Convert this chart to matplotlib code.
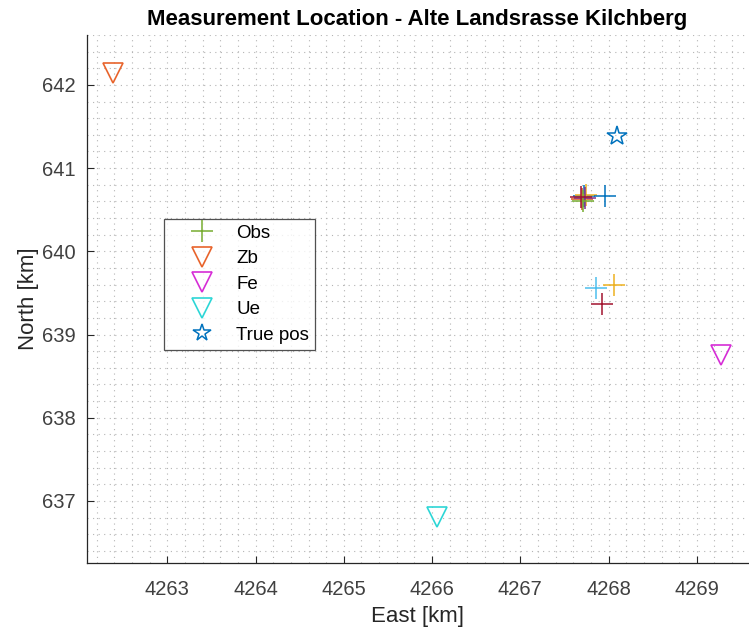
import matplotlib.pyplot as plt
from matplotlib.ticker import MultipleLocator
from matplotlib.lines import Line2D

# 观测点 (East, North) [km]
obs_east = [4267.72, 4267.70, 4267.74, 4267.73, 4267.71, 4267.69,
            4267.96, 4267.86, 4268.06, 4267.93]
obs_north = [640.67, 640.63, 640.68, 640.64, 640.61, 640.65,
             640.67, 639.56, 639.59, 639.37]
obs_colors = ['#0072BD', '#D95319', '#EDB120', '#7E2F8E', '#77AC30', '#A2142F',
              '#0072BD', '#4DBEEE', '#EDB120', '#A2142F']

# 参考站
station_names = ['Zb', 'Fe', 'Ue']
station_east = [4262.38, 4269.27, 4266.05]
station_north = [642.14, 638.76, 636.81]
station_colors = ['#E8642C', '#D62DD6', '#2DD6D6']

true_east = 4268.10
true_north = 641.39

plt.rcParams['font.family'] = ['Liberation Sans', 'DejaVu Sans']

fig = plt.figure(figsize=(7.49, 6.34), dpi=100)
ax = fig.add_axes([0.1162, 0.112, 0.8825, 0.8328])

for e, n, c in zip(obs_east, obs_north, obs_colors):
    ax.plot(e, n, marker='+', color=c, markersize=16, markeredgewidth=1.1, linestyle='none')

for e, n, c in zip(station_east, station_north, station_colors):
    ax.plot(e, n, marker='v', color=c, markerfacecolor='none', markersize=15,
            markeredgewidth=1.2, linestyle='none')

ax.plot(true_east, true_north, marker='*', color='#0072BD', markerfacecolor='none',
        markersize=15, markeredgewidth=1.1, linestyle='none')

ax.set_xlim(4262.09, 4269.58)
ax.set_ylim(636.255, 642.6)
ax.xaxis.set_major_locator(MultipleLocator(1))
ax.yaxis.set_major_locator(MultipleLocator(1))
ax.xaxis.set_minor_locator(MultipleLocator(0.2))
ax.yaxis.set_minor_locator(MultipleLocator(0.2))
ax.grid(True, which='both', linestyle=(0, (1, 4)), color='#b4b4b4', linewidth=0.8)
ax.set_axisbelow(True)

for s in ['top', 'right']:
    ax.spines[s].set_visible(False)
for s in ['left', 'bottom']:
    ax.spines[s].set_color('#262626')
    ax.spines[s].set_linewidth(0.9)
ax.tick_params(which='major', direction='in', length=5, colors='#262626',
               labelsize=14.5, labelcolor='#404040')
ax.tick_params(which='minor', length=0)
ax.tick_params(axis='x', pad=12)
ax.tick_params(axis='y', pad=8)

ax.set_xlabel('East [km]', fontsize=16, color='#262626', labelpad=5)
ax.set_ylabel('North [km]', fontsize=16, color='#262626', labelpad=2)
ax.set_title('Measurement Location - Alte Landsrasse Kilchberg', fontsize=16,
             fontweight='bold', pad=7)

# 图例
handles = [
    Line2D([], [], marker='+', color='#77AC30', markersize=16, markeredgewidth=1.1, linestyle='none'),
    Line2D([], [], marker='v', color=station_colors[0], markerfacecolor='none', markersize=15,
           markeredgewidth=1.2, linestyle='none'),
    Line2D([], [], marker='v', color=station_colors[1], markerfacecolor='none', markersize=15,
           markeredgewidth=1.2, linestyle='none'),
    Line2D([], [], marker='v', color=station_colors[2], markerfacecolor='none', markersize=15,
           markeredgewidth=1.2, linestyle='none'),
    Line2D([], [], marker='*', color='#0072BD', markerfacecolor='none', markersize=13,
           markeredgewidth=1.1, linestyle='none'),
]
labels = ['Obs'] + station_names + ['True pos']
leg = ax.legend(handles, labels, loc='upper left', bbox_to_anchor=(0.1165, 0.6515),
                fontsize=13.5, frameon=True, fancybox=False, edgecolor='#262626',
                handlelength=3.5, handletextpad=0.05, borderpad=0.3, labelspacing=0.45,
                borderaxespad=0)
leg.get_frame().set_linewidth(0.9)

plt.savefig('out.png', dpi=100)
